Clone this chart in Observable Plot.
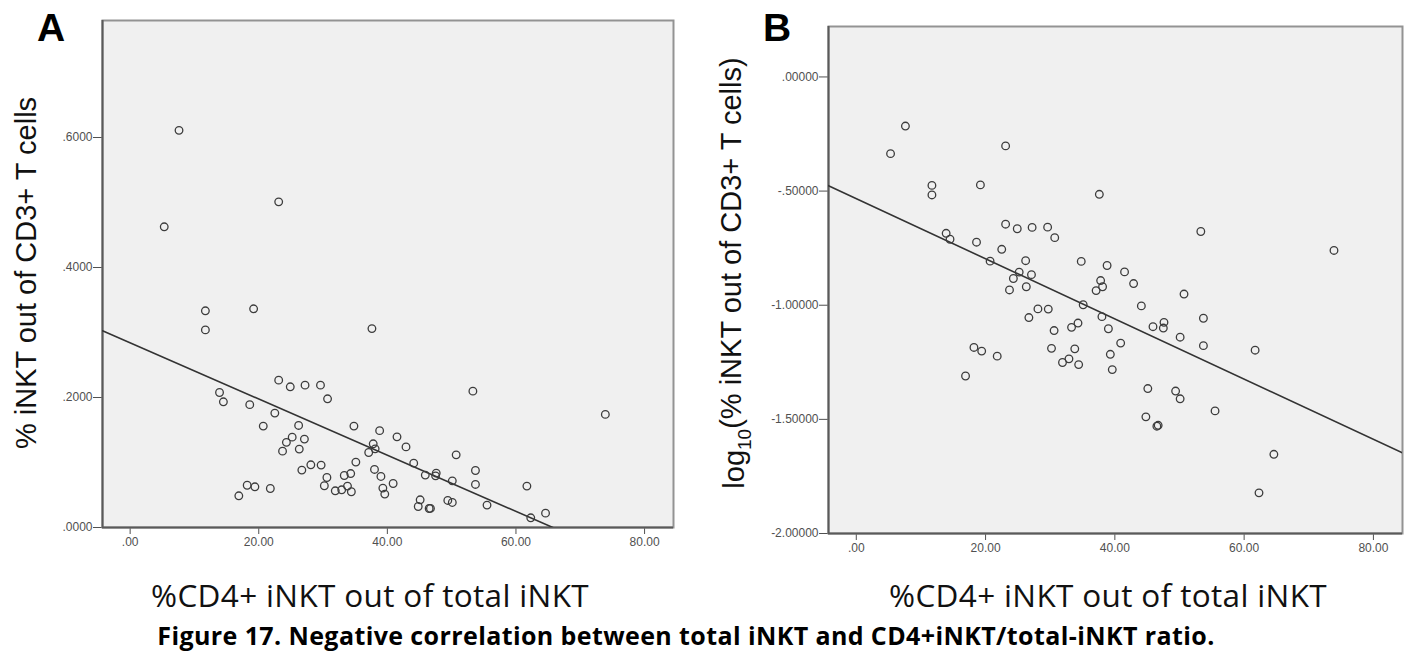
<!DOCTYPE html>
<html>
<head>
<meta charset="utf-8">
<script src="https://cdn.jsdelivr.net/npm/d3@7"></script>
<script src="https://cdn.jsdelivr.net/npm/@observablehq/plot@0.6"></script>
<style>
  body { margin: 0; background: #fff; }
  #fig { position: relative; width: 1409px; height: 652px; overflow: hidden; background: #fff; }
  .panel { position: absolute; top: 0; }
  .tag { position: absolute; font: bold 39px "Liberation Sans", Arial, sans-serif; color: #000; line-height: 1; }
  .xtitle { position: absolute; font: 31.5px/1 "Open Sans", sans-serif; letter-spacing: 0.35px; color: #111; white-space: nowrap; transform: translate(-50%, -50%); }
  #caption { position: absolute; font: bold 25px/1 "Open Sans", sans-serif; letter-spacing: 0.4px; color: #000; white-space: nowrap; transform: translate(-50%, -50%); }
</style>
</head>
<body>
<div id="fig">
  <div class="panel" id="panelA" style="left:0px"></div>
  <div class="panel" id="panelB" style="left:700px"></div>
  <div class="tag" style="left:37px; top:8px">A</div>
  <div class="tag" style="left:763px; top:8px">B</div>
  <div class="xtitle" style="left:370px; top:595px">%CD4+ iNKT out of total iNKT</div>
  <div class="xtitle" style="left:1108px; top:595px">%CD4+ iNKT out of total iNKT</div>
  <div id="caption" style="left:686px; top:635px">Figure 17. Negative correlation between total iNKT and CD4+iNKT/total-iNKT ratio.</div>
</div>
<script>
// Per-subject values: share of CD4+ iNKT among total iNKT (%),
// iNKT as % of CD3+ T cells, and the log10 of that percentage.
const cd4Share = [
  13.9, 14.5, 18.6, 23.1, 24.9, 27.2, 29.6, 30.7, 22.5, 20.7,
  26.2, 25.2, 27.1, 24.3, 23.7, 26.3, 34.8, 38.8, 41.5, 42.9,
  37.8, 38.1, 37.1, 35.1, 38.0, 39.0, 44.1, 50.7, 45.9, 47.6,
  47.5, 50.1, 40.9, 39.3, 39.6, 45.1, 49.4, 50.1, 44.8, 28.1,
  29.7, 26.7, 30.6, 33.3, 34.3, 30.2, 33.8, 31.9, 32.9, 34.4,
  18.2, 19.4, 21.8, 16.9, 7.6, 5.3, 23.1, 11.7, 11.7, 19.2,
  37.6, 53.3, 73.9, 53.7, 53.7, 61.7, 55.5, 46.5, 46.7, 64.6,
  62.3
];
const inktPct = [
  0.2077, 0.1934, 0.1890, 0.2267, 0.2165, 0.2190, 0.2190, 0.1980, 0.1760, 0.1560,
  0.1570, 0.1390, 0.1360, 0.1310, 0.1175, 0.1206, 0.1560, 0.1490, 0.1395, 0.1240,
  0.1288, 0.1210, 0.1154, 0.1006, 0.0893, 0.0785, 0.0990, 0.1118, 0.0806, 0.0837,
  0.0795, 0.0718, 0.0677, 0.0606, 0.0514, 0.0426, 0.0416, 0.0385, 0.0323, 0.0965,
  0.0960, 0.0883, 0.0769, 0.0800, 0.0830, 0.0642, 0.0637, 0.0565, 0.0580, 0.0550,
  0.0650, 0.0626, 0.0600, 0.0488, 0.6110, 0.4626, 0.5010, 0.3334, 0.3040, 0.3365,
  0.3060, 0.2098, 0.1740, 0.0877, 0.0662, 0.0637, 0.0345, 0.0292, 0.0294, 0.0221,
  0.0149
];
const inktLog = [
  -0.685, -0.711, -0.724, -0.645, -0.665, -0.659, -0.658, -0.704, -0.755, -0.807,
  -0.805, -0.855, -0.866, -0.883, -0.933, -0.919, -0.808, -0.826, -0.854, -0.905,
  -0.892, -0.919, -0.936, -0.998, -1.050, -1.103, -1.003, -0.951, -1.094, -1.075,
  -1.100, -1.140, -1.166, -1.215, -1.282, -1.365, -1.376, -1.410, -1.489, -1.016,
  -1.017, -1.054, -1.111, -1.097, -1.078, -1.189, -1.191, -1.251, -1.235, -1.260,
  -1.185, -1.201, -1.223, -1.310, -0.215, -0.336, -0.302, -0.475, -0.517, -0.473,
  -0.514, -0.677, -0.760, -1.057, -1.177, -1.197, -1.463, -1.530, -1.526, -1.653,
  -1.822
];

// Axis ticks
const xTicks = [0, 20, 40, 60, 80];
const yTicksA = [0, 0.2, 0.4, 0.6];
const yTicksB = [0, -0.5, -1, -1.5, -2];

// Fitted least-squares lines: [intercept, slope]
const fitA = [0.284, -0.00432];
const fitB = [-0.533, -0.01318];

// SPSS-style numbers: fixed decimals, no leading zero, ASCII minus
const spss = (digits) => (v) => v.toFixed(digits).replace(/^(-?)0\./, "$1.");

const xDomain = [-4.3, 84.5];

function scatter({ values, fit, yDomain, yTicks, yDigits, width, marginLeft, marginRight, marginTop, height }) {
  const rows = cd4Share.map((x, i) => ({ x, y: values[i] }));
  const fitLine = xDomain.map((x) => ({ x, y: fit[0] + fit[1] * x }));
  return Plot.plot({
    width, height, marginLeft, marginRight, marginTop,
    marginBottom: height - 527 - (marginTop - 20),
    style: { background: "transparent", fontFamily: "'Liberation Sans', Arial, sans-serif", fontSize: "12px", color: "#505050", overflow: "visible" },
    x: { domain: xDomain, ticks: xTicks, tickFormat: spss(2), label: null, tickSize: 7, tickPadding: 3 },
    y: { domain: yDomain, ticks: yTicks, tickFormat: spss(yDigits), label: null, tickSize: 9, tickPadding: 1 },
    marks: [
      Plot.frame({ fill: "#f0f0f0", stroke: "#939393", strokeWidth: 2 }),
      Plot.ruleX([xDomain[0]], { stroke: "#5a5a5a", strokeWidth: 2 }),
      Plot.ruleY([yDomain[0]], { stroke: "#5a5a5a", strokeWidth: 2 }),
      Plot.line(fitLine, { x: "x", y: "y", stroke: "#333", strokeWidth: 1.6, clip: true }),
      Plot.dot(rows, { x: "x", y: "y", r: 3.8, stroke: "#3c3c3c", strokeWidth: 1.3, fill: "none" })
    ]
  });
}

const chartA = scatter({
  values: inktPct, fit: fitA, yDomain: [0, 0.78], yTicks: yTicksA, yDigits: 4,
  width: 700, height: 560, marginLeft: 102, marginRight: 27, marginTop: 20
});
const chartB = scatter({
  values: inktLog, fit: fitB, yDomain: [-2, 0.221], yTicks: yTicksB, yDigits: 5,
  width: 709, height: 560, marginLeft: 128, marginRight: 7, marginTop: 26
});
document.getElementById("panelA").appendChild(chartA);
document.getElementById("panelB").appendChild(chartB);

// Rotated y-axis titles (B carries a subscript)
function yTitle(svg, x, y, build) {
  const t = d3.select(svg).append("text")
    .attr("transform", `translate(${x},${y}) rotate(-90)`)
    .attr("text-anchor", "middle")
    .attr("fill", "#111")
    .style("font-family", "'Liberation Sans', Arial, sans-serif")
    .style("font-size", "29px");
  build(t);
}
yTitle(chartA, 36, 273, (t) => t.text("% iNKT out of CD3+ T cells"));
yTitle(chartB, 44, 273, (t) => {
  t.append("tspan").text("log");
  t.append("tspan").attr("dy", "0.35em").style("font-size", "19px").text("10");
  t.append("tspan").attr("dy", "-0.35em").text("(% iNKT out of CD3+ T cells)");
});
</script>
</body>
</html>
